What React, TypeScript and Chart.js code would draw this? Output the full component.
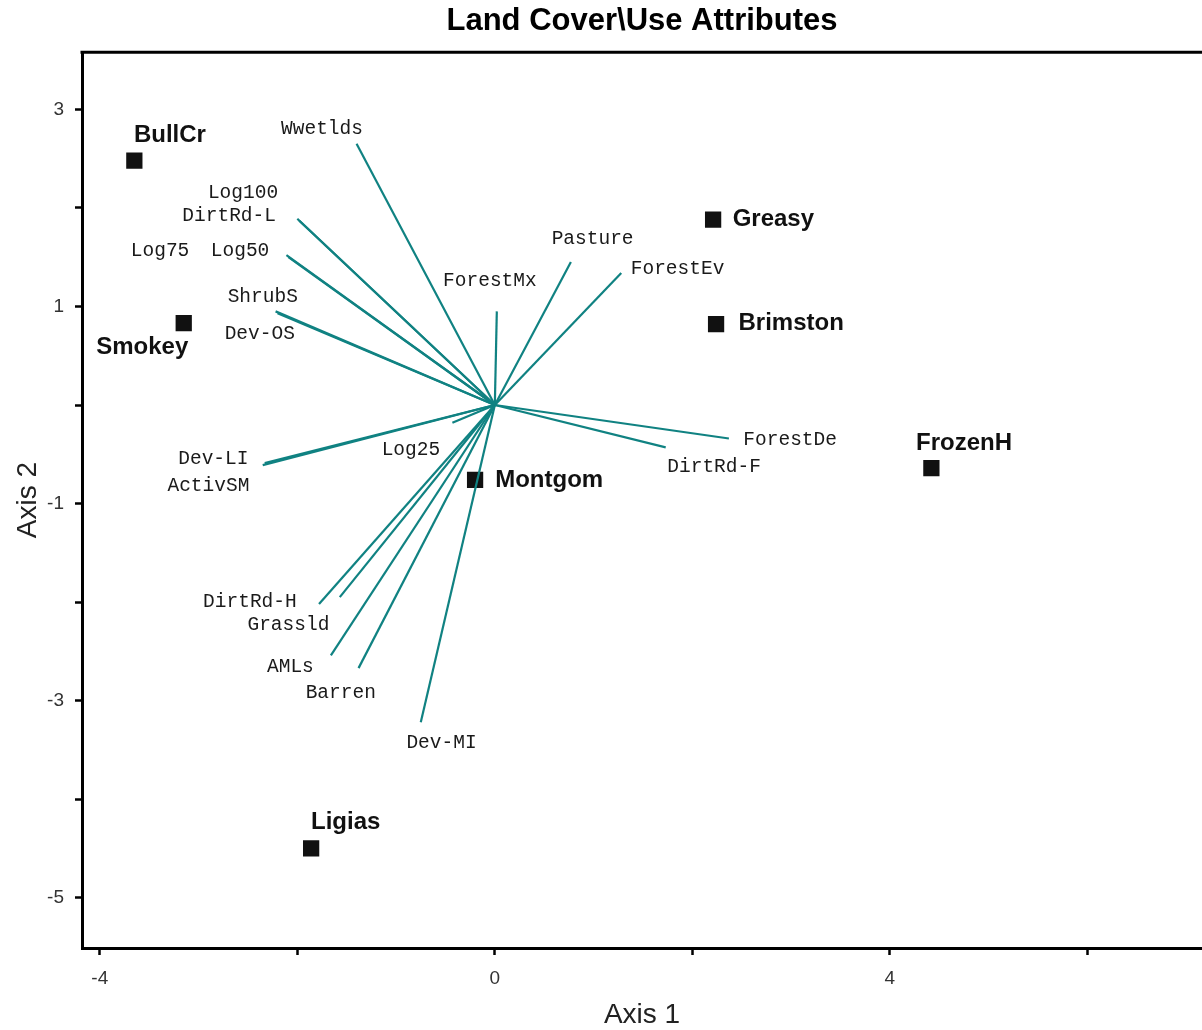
import React, { useEffect, useRef } from 'react';
import { Chart, registerables } from 'chart.js';

Chart.register(...registerables);

// ---- Data (axis units) ----
const siteNames = ['BullCr', 'Smokey', 'Greasy', 'Brimston', 'FrozenH', 'Montgom', 'Ligias'];
const siteX = [-3.65, -3.15, 2.21, 2.24, 4.42, -0.2, -1.86];
const siteY = [2.48, 0.83, 1.88, 0.82, -0.64, -0.76, -4.5];
const siteLabelX = [-3.29, -3.57, 2.82, 3.0, 4.75, 0.55, -1.51];
const siteLabelY = [2.74, 0.58, 1.88, 0.83, -0.39, -0.76, -4.24];

const vectorNames = [
  'Wwetlds', 'Log100', 'DirtRd-L', 'Log75', 'Log50', 'ShrubS', 'Dev-OS', 'ForestMx', 'Pasture', 'ForestEv',
  'ForestDe', 'DirtRd-F', 'Dev-LI', 'ActivSM', 'Log25', 'DirtRd-H', 'Grassld', 'AMLs', 'Barren', 'Dev-MI',
];
const vectorX = [-1.4, -2.0, -1.98, -2.11, -2.09, -2.22, -2.2, 0.02, 0.77, 1.28, 2.37, 1.73, -2.35, -2.33, -0.43, -1.78, -1.57, -1.66, -1.38, -0.75];
const vectorY = [2.65, 1.89, 1.87, 1.52, 1.5, 0.95, 0.93, 0.95, 1.45, 1.34, -0.34, -0.43, -0.61, -0.59, -0.18, -2.02, -1.95, -2.54, -2.67, -3.22];
const vectorLabelX = [-1.75, -2.55, -2.69, -3.39, -2.58, -2.35, -2.38, -0.05, 0.99, 1.85, 2.99, 2.22, -2.85, -2.9, -0.85, -2.48, -2.09, -2.07, -1.56, -0.54];
const vectorLabelY = [2.8, 2.15, 1.92, 1.56, 1.56, 1.1, 0.72, 1.26, 1.69, 1.38, -0.35, -0.63, -0.55, -0.82, -0.46, -2.0, -2.23, -2.66, -2.92, -3.43];

const xTickValues = [-4, -2, 0, 2, 4, 6];
const xTickLabels = ['-4', '', '0', '', '4', ''];
const yTickValues = [3, 2, 1, 0, -1, -2, -3, -4, -5];
const yTickLabels = ['3', '', '1', '', '-1', '', '-3', '', '-5'];

const chartTitle = 'Land Cover\\Use Attributes';
const xTitle = 'Axis 1';
const yTitle = 'Axis 2';

const TEAL = '#108282';
const NARROW = '"Liberation Sans Narrow", "Liberation Sans", Arial, sans-serif';
const SANS = '"Liberation Sans", Arial, sans-serif';

export default function App() {
  const canvasRef = useRef<HTMLCanvasElement | null>(null);

  useEffect(() => {
    document.body.style.margin = '0';
    const canvas = canvasRef.current;
    if (!canvas) return;

    const vectorDatasets = vectorNames.map((name, i) => ({
      type: 'scatter' as const,
      label: name,
      data: [
        { x: 0, y: 0 },
        { x: vectorX[i], y: vectorY[i] },
      ],
      showLine: true,
      borderColor: TEAL,
      borderWidth: 2.2,
      pointRadius: 0,
      pointHoverRadius: 0,
    }));

    const siteDataset = {
      type: 'scatter' as const,
      label: 'Sites',
      data: siteNames.map((_, i) => ({ x: siteX[i], y: siteY[i] })),
      pointStyle: 'rect' as const,
      pointRadius: 11.5,
      pointBackgroundColor: '#111111',
      pointBorderWidth: 0,
      showLine: false,
    };

    const labelPlugin = {
      id: 'labels',
      afterDatasetsDraw(chart: any) {
        const { ctx, scales, chartArea } = chart;
        const xs = scales.x;
        const ys = scales.y;
        ctx.save();
        // top frame line
        ctx.strokeStyle = '#000';
        ctx.lineWidth = 3;
        ctx.beginPath();
        ctx.moveTo(chartArea.left - 1.5, chartArea.top);
        ctx.lineTo(chartArea.right, chartArea.top);
        ctx.stroke();

        ctx.textAlign = 'center';
        ctx.textBaseline = 'middle';
        ctx.fillStyle = '#1a1a1a';
        ctx.font = '19.5px "Liberation Mono", "Courier New", monospace';
        vectorNames.forEach((name, i) => {
          ctx.fillText(name, xs.getPixelForValue(vectorLabelX[i]), ys.getPixelForValue(vectorLabelY[i]));
        });
        ctx.fillStyle = '#111';
        ctx.font = 'bold 24px ' + SANS;
        siteNames.forEach((name, i) => {
          ctx.fillText(name, xs.getPixelForValue(siteLabelX[i]), ys.getPixelForValue(siteLabelY[i]));
        });
        ctx.restore();
      },
    };

    const chart = new Chart(canvas, {
      type: 'scatter',
      data: { datasets: [...vectorDatasets, siteDataset] as any },
      options: {
        animation: false,
        responsive: false,
        devicePixelRatio: 1,
        layout: { padding: 0, autoPadding: false },
        plugins: {
          legend: { display: false },
          tooltip: { enabled: false },
          title: {
            display: true,
            text: chartTitle,
            fullSize: false,
            color: '#000',
            font: { family: SANS, size: 31, weight: 'bold', lineHeight: 1.2 },
            padding: { top: 3, bottom: 12 },
          },
        },
        scales: {
          x: {
            type: 'linear',
            min: -4.18,
            max: 7.16,
            afterBuildTicks: (scale: any) => {
              scale.ticks = xTickValues.map((v) => ({ value: v }));
            },
            afterFit: (scale: any) => {
              scale.height = 82;
              scale.paddingLeft = 0;
              scale.paddingRight = 0;
            },
            ticks: {
              autoSkip: false,
              maxRotation: 0,
              padding: 12,
              color: '#333',
              font: { family: NARROW, size: 19 },
              callback: (value: any) => {
                const idx = xTickValues.indexOf(Number(value));
                return idx >= 0 ? xTickLabels[idx] : '';
              },
            },
            grid: {
              drawOnChartArea: false,
              drawTicks: true,
              tickLength: 7,
              tickWidth: 2.5,
              tickColor: '#000',
              color: '#000',
            },
            border: { display: true, color: '#000', width: 3 },
            title: {
              display: true,
              text: xTitle,
              color: '#222',
              font: { family: SANS, size: 28, lineHeight: 1.2 },
              padding: { top: 0, bottom: -2 },
            },
          },
          y: {
            type: 'linear',
            min: -5.51,
            max: 3.58,
            afterBuildTicks: (scale: any) => {
              scale.ticks = yTickValues.map((v) => ({ value: v }));
            },
            afterFit: (scale: any) => {
              scale.width = 82;
              scale.paddingTop = 0;
              scale.paddingBottom = 0;
            },
            ticks: {
              autoSkip: false,
              padding: 11,
              color: '#333',
              font: { family: NARROW, size: 19 },
              callback: (value: any) => {
                const idx = yTickValues.indexOf(Number(value));
                return idx >= 0 ? yTickLabels[idx] : '';
              },
            },
            grid: {
              drawOnChartArea: false,
              drawTicks: true,
              tickLength: 7,
              tickWidth: 2.5,
              tickColor: '#000',
              color: '#000',
            },
            border: { display: true, color: '#000', width: 3 },
            title: {
              display: true,
              text: yTitle,
              color: '#222',
              font: { family: SANS, size: 28, lineHeight: 1.2 },
              padding: { top: 11, bottom: 0 },
            },
          },
        },
      },
      plugins: [labelPlugin],
    });

    return () => {
      chart.destroy();
    };
  }, []);

  return (
    <div style={{ width: 1202, height: 1030, position: 'relative', background: '#fff' }}>
      <canvas ref={canvasRef} width={1202} height={1030} style={{ display: 'block', width: 1202, height: 1030 }} />
    </div>
  );
}
